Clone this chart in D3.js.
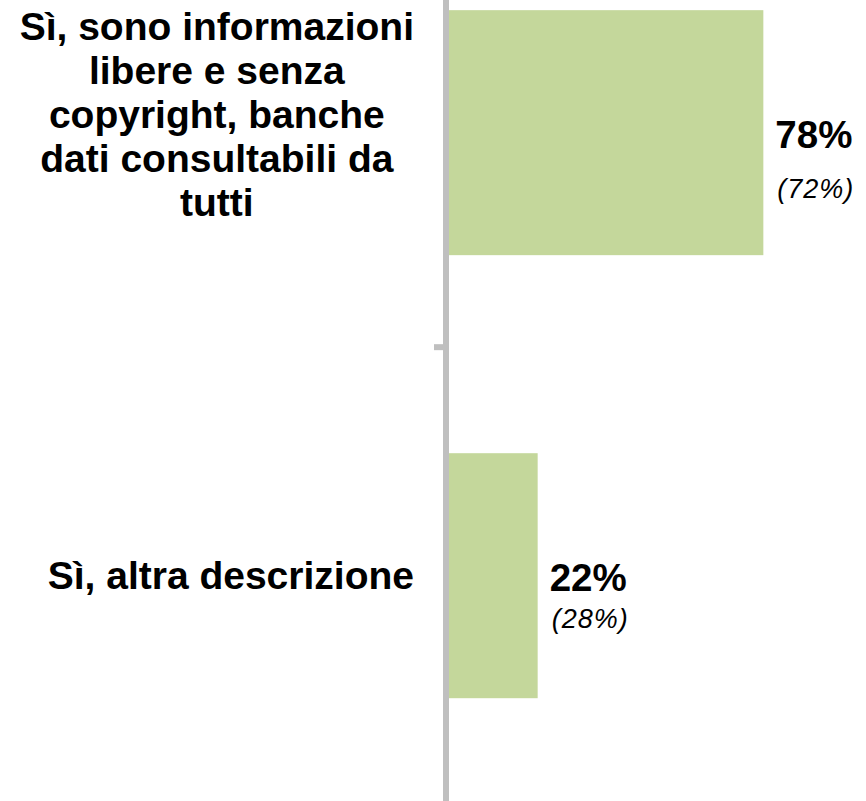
<!DOCTYPE html>
<html>
<head>
<meta charset="utf-8">
<title>Bar chart</title>
<script src="https://d3js.org/d3.v7.min.js"></script>
<style>
  body { margin: 0; background: #fff; }
  .cat { font-family: "Liberation Sans", Arial, sans-serif; font-size: 39px; font-weight: bold; letter-spacing: 0px; fill: #000; }
  .val { font-family: "Liberation Sans", Arial, sans-serif; font-size: 38.5px; font-weight: bold; fill: #000; }
  .prev { font-family: "Liberation Sans", Arial, sans-serif; font-size: 27px; font-style: italic; letter-spacing: 1px; fill: #000; }
</style>
</head>
<body>
<script>
// data
var categories = [
  ["Sì, sono informazioni", "libere e senza", "copyright, banche", "dati consultabili da", "tutti"],
  ["Sì, altra descrizione"]
];
var values = [78, 22];       // current survey, %
var previous = [72, 28];     // previous survey, shown in brackets

var width = 866, height = 801;
var svg = d3.select("body").append("svg")
  .attr("width", width).attr("height", height);

var keys = categories.map(function(d, i) { return "c" + i; });

var y = d3.scaleBand().domain(keys).range([0, height])
  .paddingInner(0.447).paddingOuter(0.1275).align(0.09);
var x = d3.scaleLinear().domain([0, 100]).range([449, 852]);

// bars
svg.selectAll("rect.bar").data(values).enter().append("rect")
  .attr("class", "bar")
  .attr("x", x(0))
  .attr("y", function(d, i) { return y(keys[i]); })
  .attr("width", function(d) { return x(d) - x(0); })
  .attr("height", y.bandwidth())
  .attr("fill", "#c4d79b");

// axis line + tick between the categories
svg.append("line")
  .attr("x1", x(0) - 3).attr("x2", x(0) - 3)
  .attr("y1", 0).attr("y2", height)
  .attr("stroke", "#bfbfbf").attr("stroke-width", 6);
var tickY = (y(keys[0]) + y.bandwidth() + y(keys[1])) / 2 - 7;
svg.append("line")
  .attr("x1", x(0) - 15).attr("x2", x(0) - 6)
  .attr("y1", tickY).attr("y2", tickY)
  .attr("stroke", "#bfbfbf").attr("stroke-width", 6);

// category labels: block right-aligned at 414, lines centred in the block
var lh = 44;
categories.forEach(function(lines, i) {
  var c = y(keys[i]) + y.bandwidth() / 2;
  var n = lines.length;
  var nudge = n > 1 ? -18 : 0;
  var g = svg.append("g");
  var texts = g.selectAll("text").data(lines).enter().append("text")
    .attr("class", "cat")
    .attr("text-anchor", "middle")
    .attr("y", function(d, j) { return c + 13 + (j - (n - 1) / 2) * lh + nudge; })
    .text(function(d) { return d; });
  var maxW = 0;
  texts.each(function() { maxW = Math.max(maxW, this.getComputedTextLength()); });
  texts.attr("x", 414 - maxW / 2);
});

// value labels
var subGap = [50, 37];
values.forEach(function(v, i) {
  var c = y(keys[i]) + y.bandwidth() / 2;
  svg.append("text").attr("class", "val")
    .attr("x", x(v) + 12).attr("y", c + 15)
    .text(v + "%");
  svg.append("text").attr("class", "prev")
    .attr("x", x(v) + 14).attr("y", c + 15 + subGap[i])
    .text("(" + previous[i] + "%)");
});
</script>
</body>
</html>
